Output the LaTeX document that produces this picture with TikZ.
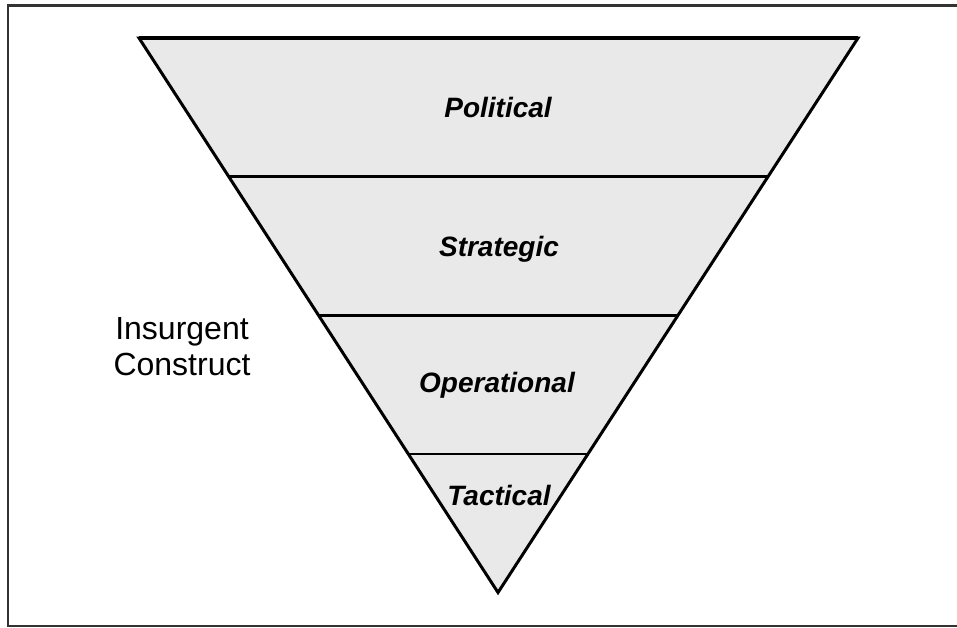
\documentclass[tikz,border=0pt]{standalone}
\usepackage{fontspec}
\setmainfont{Liberation Sans}
\usetikzlibrary{calc}
\definecolor{bandgray}{HTML}{E9E9E9}
\definecolor{framegray}{HTML}{333333}

\begin{document}
\begin{tikzpicture}[x=1pt, y=-1pt,
  level/.style={anchor=base, inner sep=0pt, font=\fontsize{28}{34}\selectfont\bfseries\itshape},
  bandline/.style={line width=2.5pt}]
  \useasboundingbox (0,0) rectangle (957,627);
  \draw[framegray, line width=2.5pt] (962,5.5) -- (8,5.5) -- (8,626) -- (962,626);
  % corners of the funnel
  \coordinate (L) at (139,38);
  \coordinate (R) at (858,38);
  \coordinate (V) at (498,592.5);
  \draw[fill=bandgray, line width=3pt] (L) -- (R) -- (V) -- cycle;
  \draw[line width=4pt] (L) -- (R);
  \foreach \f in {0.25,0.5,0.75}
    \draw[bandline] ($(L)!\f!(V)$) -- ($(R)!\f!(V)$);
  \node[level] (P) at (498,117) {Political};
  \node[level] (S) at (499,256) {Strategic};
  \node[level] (O) at (497,392) {Operational};
  \node[level] (T) at (499,505) {Tactical};
  \node[align=center, inner sep=0pt, font=\fontsize{32}{36}\selectfont] (I) at (182,346.5) {Insurgent\\Construct};
\end{tikzpicture}
\end{document}
